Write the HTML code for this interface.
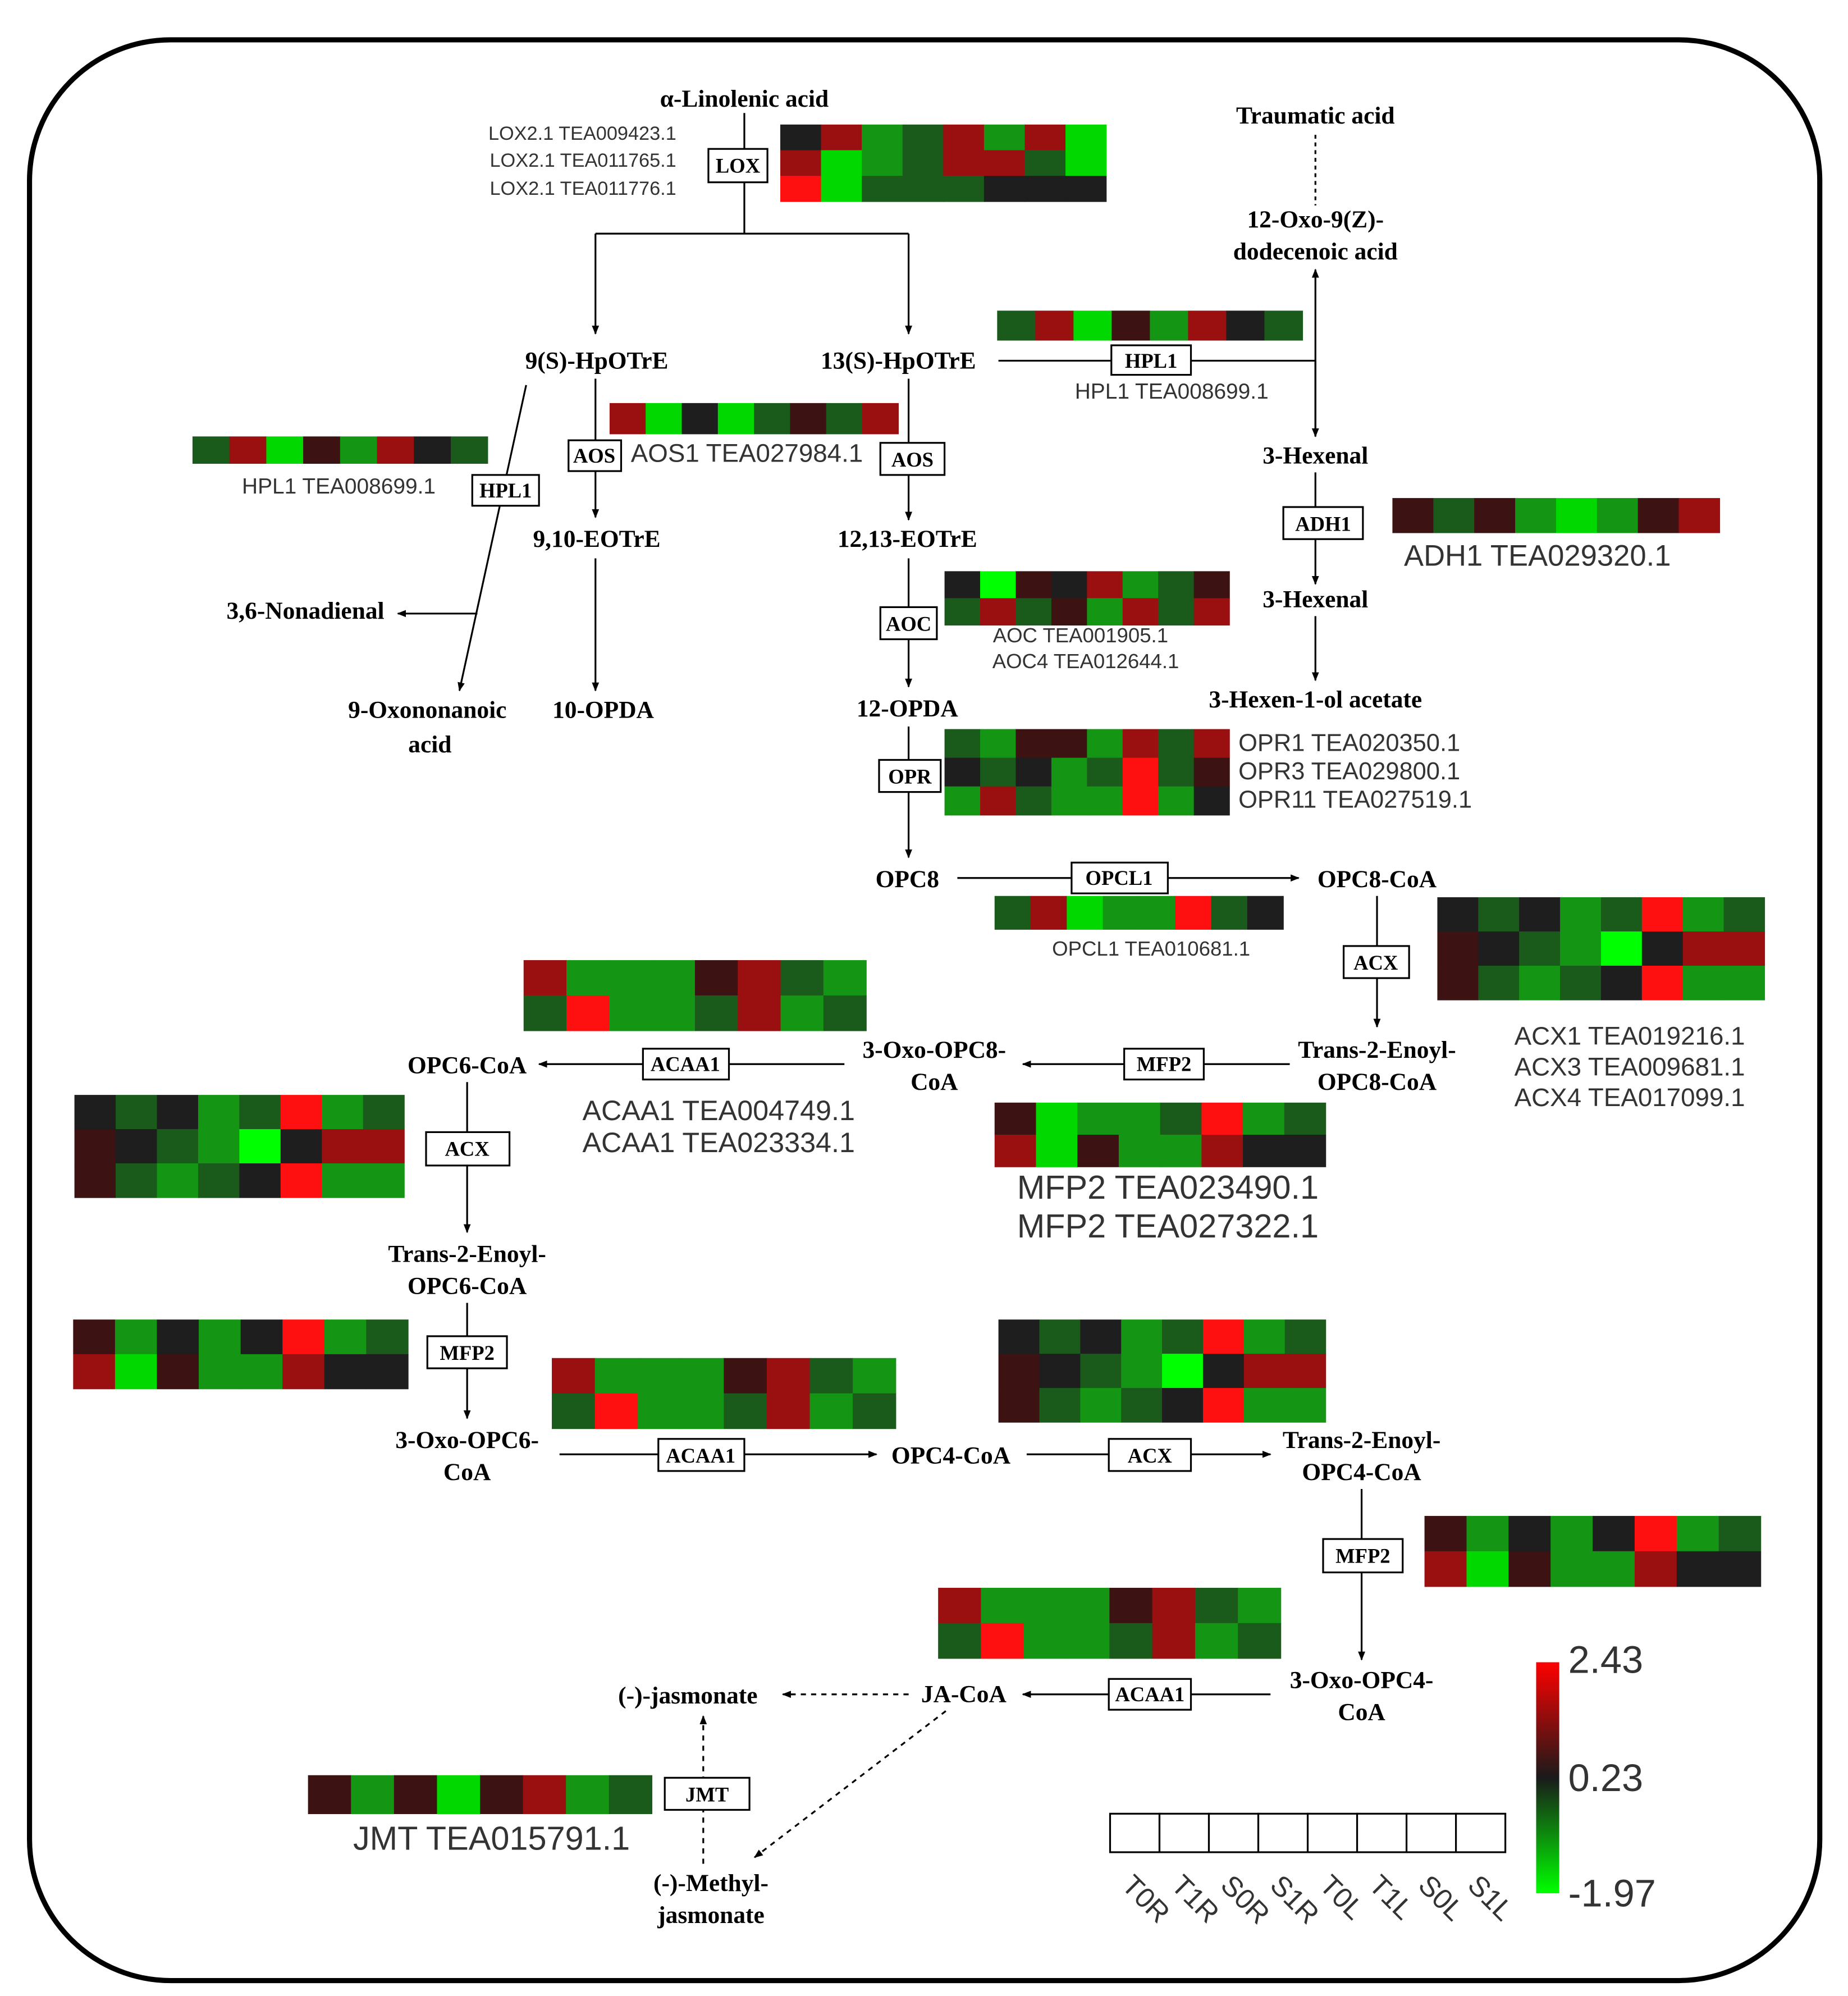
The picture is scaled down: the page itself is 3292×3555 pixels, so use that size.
<!DOCTYPE html>
<html><head><meta charset="utf-8"><style>html,body{margin:0;padding:0;background:#fff}svg{display:block}</style></head>
<body>
<svg width="3292" height="3555" viewBox="0 0 1440 1555" xmlns="http://www.w3.org/2000/svg">
<defs>
<marker id="a" viewBox="0 0 10 10" refX="9" refY="5" markerWidth="7" markerHeight="7" orient="auto" markerUnits="userSpaceOnUse"><path d="M0,1 L10,5 L0,9 z" fill="#000"/></marker>
<linearGradient id="lg" x1="0" y1="0" x2="0" y2="1"><stop offset="0" stop-color="#ff0000"/><stop offset="0.5" stop-color="#1a1a1a"/><stop offset="1" stop-color="#00ff00"/></linearGradient>
</defs>
<rect x="0" y="0" width="1440" height="1555" fill="#fff"/>
<rect x="23" y="31" width="1395" height="1512" rx="110" ry="110" fill="none" stroke="#000" stroke-width="4"/>
<g id="hm"></g>
<g stroke="#000" stroke-width="1.4" fill="none">
<path d="M580,88 V182 M464,182 H708"/>
<path d="M464,182 V260" marker-end="url(#a)"/><path d="M708,182 V260" marker-end="url(#a)"/>
<path d="M778,281 H1025"/><path d="M1025,340 V210" marker-end="url(#a)"/><path d="M1025,281 V340" marker-end="url(#a)"/>
<path d="M1025,105 V160" stroke-dasharray="3,3"/>
<path d="M464,295 V403" marker-end="url(#a)"/><path d="M464,435 V538" marker-end="url(#a)"/>
<path d="M410,300 L358,538" marker-end="url(#a)"/><path d="M372,478 H310" marker-end="url(#a)"/>
<path d="M708,295 V405" marker-end="url(#a)"/><path d="M708,435 V535" marker-end="url(#a)"/><path d="M708,566 V668" marker-end="url(#a)"/>
<path d="M746,684 H1012" marker-end="url(#a)"/>
<path d="M1073,698 V800" marker-end="url(#a)"/>
<path d="M1005,829 H797" marker-end="url(#a)"/><path d="M658,829 H420" marker-end="url(#a)"/>
<path d="M364,843 V960" marker-end="url(#a)"/><path d="M364,1015 V1105" marker-end="url(#a)"/>
<path d="M436,1133 H683" marker-end="url(#a)"/><path d="M800,1133 H990" marker-end="url(#a)"/>
<path d="M1061,1160 V1293" marker-end="url(#a)"/>
<path d="M990,1320 H797" marker-end="url(#a)"/>
<path d="M708,1320 H610" stroke-dasharray="4,4" marker-end="url(#a)"/>
<path d="M737,1333 L588,1447" stroke-dasharray="4,4" marker-end="url(#a)"/>
<path d="M548,1452 V1337" stroke-dasharray="4,4" marker-end="url(#a)"/>
<path d="M1025,368 V455" marker-end="url(#a)"/><path d="M1025,480 V530" marker-end="url(#a)"/>
</g>
<g stroke="#000" stroke-width="1.4" fill="#fff">
<rect x="552" y="116" width="46" height="26"/><rect x="866" y="269" width="62" height="23"/>
<rect x="443" y="343" width="41" height="24"/><rect x="368" y="370" width="52" height="24"/>
<rect x="686" y="345" width="50" height="25"/><rect x="686" y="473" width="44" height="25"/>
<rect x="685" y="592" width="48" height="25"/><rect x="835" y="672" width="75" height="24"/>
<rect x="1047" y="737" width="51" height="25"/><rect x="876" y="817" width="62" height="24"/>
<rect x="501" y="817" width="67" height="24"/><rect x="332" y="882" width="65" height="26"/>
<rect x="333" y="1041" width="62" height="25"/><rect x="513" y="1121" width="67" height="25"/>
<rect x="864" y="1121" width="64" height="25"/><rect x="1031" y="1199" width="62" height="26"/>
<rect x="864" y="1308" width="64" height="24"/><rect x="518" y="1385" width="66" height="25"/>
<rect x="1000" y="395" width="62" height="25"/>
</g>
<g font-family="Liberation Serif, serif" font-weight="bold" font-size="16" text-anchor="middle" dominant-baseline="central">
<text x="575" y="129">LOX</text><text x="897" y="281">HPL1</text><text x="463" y="355">AOS</text><text x="394" y="382">HPL1</text>
<text x="711" y="358">AOS</text><text x="708" y="486">AOC</text><text x="709" y="605">OPR</text><text x="872" y="684">OPCL1</text>
<text x="1072" y="750">ACX</text><text x="907" y="829">MFP2</text><text x="534" y="829">ACAA1</text><text x="364" y="895">ACX</text>
<text x="364" y="1054">MFP2</text><text x="546" y="1134">ACAA1</text><text x="896" y="1134">ACX</text><text x="1062" y="1212">MFP2</text>
<text x="896" y="1320">ACAA1</text><text x="551" y="1398">JMT</text><text x="1031" y="408">ADH1</text>
</g>
<g font-family="Liberation Serif, serif" font-weight="bold" font-size="19" text-anchor="middle" dominant-baseline="central">
<text x="580" y="77">α-Linolenic acid</text><text x="1025" y="90">Traumatic acid</text>
<text x="1025" y="171">12-Oxo-9(Z)-</text><text x="1025" y="196">dodecenoic acid</text>
<text x="465" y="281">9(S)-HpOTrE</text><text x="700" y="281">13(S)-HpOTrE</text>
<text x="1025" y="355">3-Hexenal</text><text x="1025" y="467">3-Hexenal</text><text x="1025" y="545">3-Hexen-1-ol acetate</text>
<text x="465" y="420">9,10-EOTrE</text><text x="707" y="420">12,13-EOTrE</text>
<text x="238" y="476">3,6-Nonadienal</text><text x="333" y="553">9-Oxononanoic</text><text x="335" y="580">acid</text>
<text x="470" y="553">10-OPDA</text><text x="707" y="552">12-OPDA</text><text x="707" y="685">OPC8</text>
<text x="1073" y="685">OPC8-CoA</text><text x="1073" y="818">Trans-2-Enoyl-</text><text x="1073" y="843">OPC8-CoA</text>
<text x="728" y="818">3-Oxo-OPC8-</text><text x="728" y="843">CoA</text><text x="364" y="830">OPC6-CoA</text>
<text x="364" y="977">Trans-2-Enoyl-</text><text x="364" y="1002">OPC6-CoA</text>
<text x="364" y="1122">3-Oxo-OPC6-</text><text x="364" y="1147">CoA</text><text x="741" y="1134">OPC4-CoA</text>
<text x="1061" y="1122">Trans-2-Enoyl-</text><text x="1061" y="1147">OPC4-CoA</text>
<text x="1061" y="1309">3-Oxo-OPC4-</text><text x="1061" y="1334">CoA</text>
<text x="751" y="1320">JA-CoA</text><text x="536" y="1321">(-)-jasmonate</text>
<text x="554" y="1467">(-)-Methyl-</text><text x="554" y="1492">jasmonate</text>
</g>
<g font-family="Liberation Sans, sans-serif" fill="#333" dominant-baseline="central">
<g font-size="15" text-anchor="end"><text x="527" y="104">LOX2.1 TEA009423.1</text><text x="527" y="125">LOX2.1 TEA011765.1</text><text x="527" y="147">LOX2.1 TEA011776.1</text></g>
<g text-anchor="middle">
<text x="913" y="305" font-size="17">HPL1 TEA008699.1</text>
<text x="582" y="353" font-size="20">AOS1 TEA027984.1</text>
<text x="264" y="379" font-size="17">HPL1 TEA008699.1</text>
<text x="1198" y="433" font-size="23">ADH1 TEA029320.1</text>
<text x="842" y="495" font-size="16">AOC TEA001905.1</text><text x="846" y="515" font-size="16">AOC4 TEA012644.1</text>
<text x="897" y="739" font-size="16">OPCL1 TEA010681.1</text>
<text x="560" y="865" font-size="22">ACAA1 TEA004749.1</text><text x="560" y="890" font-size="22">ACAA1 TEA023334.1</text>
<text x="910" y="925" font-size="26">MFP2 TEA023490.1</text><text x="910" y="955" font-size="26">MFP2 TEA027322.1</text>
<text x="383" y="1432" font-size="26">JMT TEA015791.1</text>
</g>
<g font-size="19"><text x="965" y="579">OPR1 TEA020350.1</text><text x="965" y="601">OPR3 TEA029800.1</text><text x="965" y="623">OPR11 TEA027519.1</text></g>
<g font-size="20"><text x="1180" y="807">ACX1 TEA019216.1</text><text x="1180" y="831">ACX3 TEA009681.1</text><text x="1180" y="855">ACX4 TEA017099.1</text></g>
<g font-size="30"><text x="1222" y="1293">2.43</text><text x="1222" y="1385">0.23</text><text x="1222" y="1475">-1.97</text></g>
</g>
<rect x="1197" y="1295" width="18" height="180" fill="url(#lg)"/>
<g id="lab" font-family="Liberation Sans, sans-serif" font-size="22" fill="#333"></g>
<g id="box" fill="#fff" stroke="#000" stroke-width="1.4"></g>
<script>
const C={R:'#ff1010',r:'#9a1010',k:'#1e1e1e',K:'#3c1212',g:'#149614',G:'#00d800',d:'#1a5a1a',L:'#00ff00'};
const H=[
[608,97,254,60,['krgdrgrG','rGgdrrdG','RGdddkkk']],
[777,242,238,23,['drGKgrkd']],
[475,314,225,24,['rGkGdKdr']],
[150,340,230,21,['drGKgrkd']],
[1085,388,255,27,['KdKgGgKr']],
[736,445,222,42,['kLKkrgdK','drdKgrdr']],
[736,568,222,67,['dgKKgrdr','kdkgdRdK','grdggRgk']],
[775,698,225,26,['drGggRdk']],
[1120,699,255,80,['kdkgdRgd','KkdgLkrr','KdgdkRgg']],
[408,748,267,55,['rgggKrdg','dRggdrgd']],
[58,853,257,80,['kdkgdRgd','KkdgLkrr','KdgdkRgg']],
[775,859,258,50,['KGggdRgd','rGKggrkk']],
[57,1028,261,54,['KgkgkRgd','rGKggrkk']],
[430,1058,268,55,['rgggKrdg','dRggdrgd']],
[778,1028,255,80,['kdkgdRgd','KkdgLkrr','KdgdkRgg']],
[1110,1181,262,55,['KgkgkRgd','rGKggrkk']],
[731,1237,267,55,['rgggKrdg','dRggdrgd']],
[240,1383,268,30,['KgKGKrgd']]];
const NS='http://www.w3.org/2000/svg';const hm=document.getElementById('hm');
for(const [x,y,w,h,rows] of H){const cw=w/8,rh=h/rows.length;rows.forEach((row,j)=>{[...row].forEach((c,i)=>{const e=document.createElementNS(NS,'rect');e.setAttribute('x',x+i*cw);e.setAttribute('y',y+j*rh);e.setAttribute('width',cw+0.3);e.setAttribute('height',rh+0.3);e.setAttribute('fill',C[c]);hm.appendChild(e);});});}
const bx=document.getElementById('box'),lb=document.getElementById('lab');const L=['T0R','T1R','S0R','S1R','T0L','T1L','S0L','S1L'];
for(let i=0;i<8;i++){const x=865+i*38.5;const e=document.createElementNS(NS,'rect');e.setAttribute('x',x);e.setAttribute('y',1413);e.setAttribute('width',38.5);e.setAttribute('height',30);bx.appendChild(e);
const t=document.createElementNS(NS,'text');const tx=x+8,ty=1470;t.setAttribute('x',tx);t.setAttribute('y',ty);t.setAttribute('transform','rotate(45 '+tx+' '+ty+')');t.textContent=L[i];lb.appendChild(t);}
</script>
</svg>
</body></html>
